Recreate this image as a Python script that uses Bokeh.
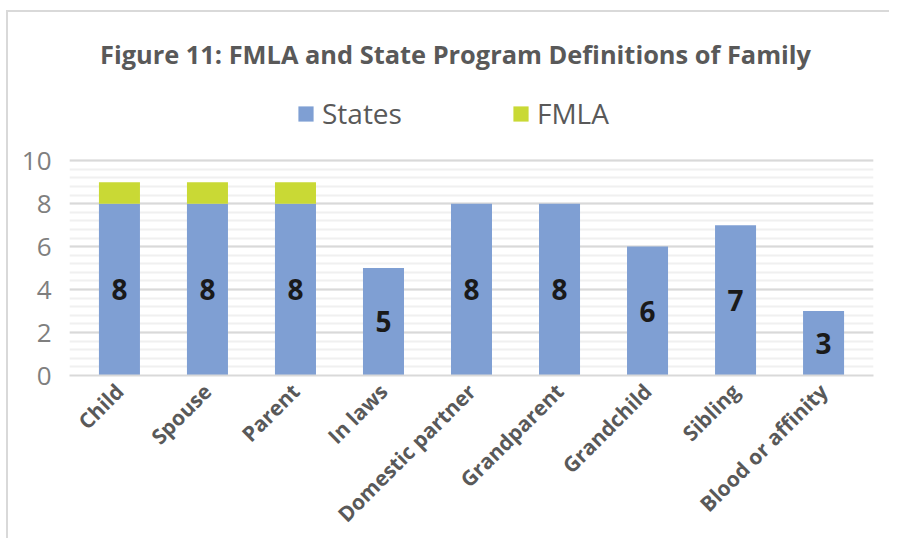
import math
from bokeh.plotting import figure
from bokeh.models import (ColumnDataSource, Legend, LegendItem, FixedTicker,
                          LabelSet, Label)
from bokeh.core.properties import value
from bokeh.embed import file_html
from bokeh.resources import INLINE

categories = ["Child", "Spouse", "Parent", "In laws", "Domestic partner",
              "Grandparent", "Grandchild", "Sibling", "Blood or affinity"]
states = [8, 8, 8, 5, 8, 8, 6, 7, 3]
fmla = [1, 1, 1, 0, 0, 0, 0, 0, 0]
y_ticks = [0, 2, 4, 6, 8, 10]
title_text = "Figure 11: FMLA and State Program Definitions of Family"

BLUE = "#7f9fd3"
GREEN = "#c9d935"
GRAY = "#595959"

src = ColumnDataSource(dict(
    cat=categories,
    states=states,
    fmla=fmla,
    top=[s + f for s, f in zip(states, fmla)],
    mid=[s / 2 for s in states],
    lab=[str(s) for s in states],
))

# layout (pixels)
W, H = 883, 528
B_LEFT, B_RIGHT, B_BOTTOM = 61, 18, 163
frame_h = H - B_BOTTOM          # frame spans to the top; grid stops at 10
grid_h = 216                    # pixel height of 0..10
y_end = 10 * frame_h / grid_h

p = figure(width=W, height=H, x_range=categories, y_range=(0, y_end),
           output_backend="svg", toolbar_location=None,
           min_border_left=B_LEFT, min_border_right=B_RIGHT,
           min_border_bottom=B_BOTTOM, min_border_top=0)
p.styles = {"border-left": "2px solid #d9d9d9", "border-top": "2px solid #d9d9d9",
            "margin-left": "6px", "margin-top": "10px"}
p.x_range.range_padding = 0.015
p.outline_line_color = None
p.border_fill_color = "white"
p.background_fill_color = "white"

r1 = p.vbar(x="cat", top="states", bottom=0, width=0.466, source=src,
            fill_color=BLUE, line_color=None)
r2 = p.vbar(x="cat", top="top", bottom="states", width=0.466, source=src,
            fill_color=GREEN, line_color=None)

labels = LabelSet(x="cat", y="mid", text="lab", source=src, text_align="center",
                  text_baseline="middle", text_font=value("Open Sans"),
                  text_font_style="bold", text_font_size="28px", text_color="#1a1a1a")
p.add_layout(labels)

title = Label(x=386, y=frame_h - 43, x_units="screen", y_units="screen",
              text=title_text, text_align="center", text_baseline="middle",
              text_font="Open Sans", text_font_style="bold",
              text_font_size="25.4px", text_color=GRAY)
p.add_layout(title)

legend = Legend(items=[LegendItem(label="States", renderers=[r1]),
                       LegendItem(label="FMLA", renderers=[r2])],
                orientation="horizontal", location=(227, 243),
                label_text_font="Open Sans", label_text_font_size="28px",
                label_text_color=GRAY, glyph_width=19, glyph_height=19,
                spacing=109, background_fill_alpha=0, border_line_color=None,
                label_standoff=7, padding=0, margin=0)
p.add_layout(legend, "center")

p.yaxis.ticker = FixedTicker(ticks=y_ticks, minor_ticks=[i * 0.4 for i in range(26)])
p.yaxis.bounds = (0, 10)
p.yaxis.axis_line_color = None
p.yaxis.major_tick_line_color = None
p.yaxis.minor_tick_line_color = None
p.yaxis.major_label_text_font = "Open Sans"
p.yaxis.major_label_text_font_size = "26px"
p.yaxis.major_label_text_color = "#7f7f7f"
p.yaxis.major_label_standoff = 12

p.xaxis.axis_line_color = "#d9d9d9"
p.xaxis.axis_line_width = 2
p.xaxis.major_tick_line_color = None
p.xaxis.minor_tick_line_color = None
p.xaxis.major_label_orientation = math.pi / 4
p.xaxis.major_label_text_font = "Open Sans"
p.xaxis.major_label_text_font_style = "bold"
p.xaxis.major_label_text_font_size = "21px"
p.xaxis.major_label_text_color = GRAY
p.xaxis.major_label_standoff = 6

p.xgrid.grid_line_color = None
p.ygrid.bounds = (0, 10)
p.ygrid.grid_line_color = "#d9d9d9"
p.ygrid.grid_line_width = 2
p.ygrid.minor_grid_line_color = "#f0f0f0"
p.ygrid.minor_grid_line_width = 2

open("out.html", "w").write(file_html(p, INLINE))
